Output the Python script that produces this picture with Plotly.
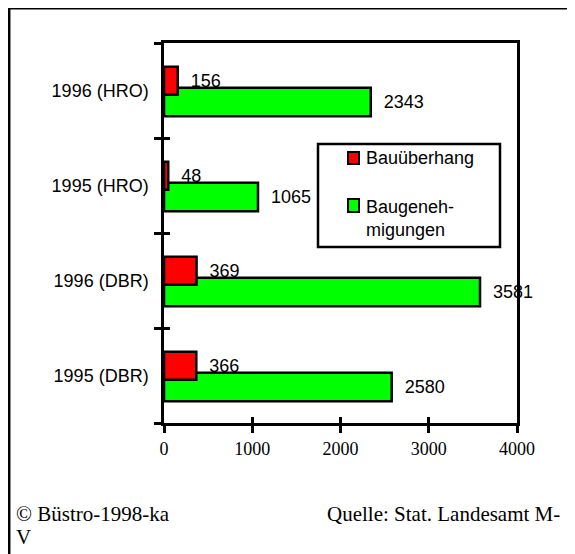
import plotly.graph_objects as go

# data (bottom category first)
categories = ['1995 (DBR)', '1996 (DBR)', '1995 (HRO)', '1996 (HRO)']
bauueberhang = [366, 369, 48, 156]
baugenehmigungen = [2580, 3581, 1065, 2343]
series_names = ['Bauüberhang', 'Baugeneh-<br>migungen']
series_colors = ['#FF0000', '#00FF00']
x_ticks = [0, 1000, 2000, 3000, 4000]

# the page body has an 8px margin, so the figure starts at (8, 8)
OFF = 8
W, H = 575 - OFF, 554 - OFF
L, R, T, B = 164, 517, 43, 423   # plot area in page pixels


def px_x(p):
    return (p - L) / (R - L)


def px_y(p):
    return (B - p) / (B - T)


sans = 'Arial, Liberation Sans, sans-serif'
serif = 'Times New Roman, Liberation Serif, serif'
nb = '\u00a0\u00a0'

fig = go.Figure()

fig.add_trace(go.Bar(
    y=categories, x=baugenehmigungen, orientation='h',
    name=series_names[1],
    marker=dict(color=series_colors[1], line=dict(color='black', width=2.5)),
    offset=-0.27, width=0.3,
    text=baugenehmigungen, texttemplate=nb + '%{x}', textposition='outside',
    constraintext='none', cliponaxis=False,
    textfont=dict(family=sans, size=18, color='black'),
    showlegend=False, hoverinfo='x+name'
))
fig.add_trace(go.Bar(
    y=categories, x=bauueberhang, orientation='h',
    name=series_names[0],
    marker=dict(color=series_colors[0], line=dict(color='black', width=2.5)),
    offset=-0.045, width=0.295,
    text=bauueberhang, texttemplate=nb + '%{x}', textposition='outside',
    constraintext='none', cliponaxis=False,
    textfont=dict(family=sans, size=18, color='black'),
    showlegend=False, hoverinfo='x+name'
))
# helper trace so the inside-tick overlay axes get drawn
fig.add_trace(go.Scatter(x=[None], y=[None], xaxis='x2', yaxis='y2',
                         showlegend=False, hoverinfo='skip'))

shapes = [
    # outer frame (only top and left visible)
    dict(type='rect', xref='paper', yref='paper',
         x0=px_x(9.2), x1=px_x(620), y0=px_y(8.2), y1=px_y(620),
         line=dict(color='black', width=2.5), layer='below'),
    # legend box
    dict(type='rect', xref='paper', yref='paper',
         x0=px_x(318), x1=px_x(500), y0=px_y(144), y1=px_y(247),
         line=dict(color='black', width=2.5), fillcolor='white'),
    dict(type='rect', xref='paper', yref='paper',
         x0=px_x(348), x1=px_x(359), y0=px_y(152), y1=px_y(164),
         line=dict(color='black', width=2), fillcolor=series_colors[0]),
    dict(type='rect', xref='paper', yref='paper',
         x0=px_x(348), x1=px_x(359), y0=px_y(199), y1=px_y(212),
         line=dict(color='black', width=2), fillcolor=series_colors[1]),
]

annotations = [
    dict(text=series_names[0], xref='paper', yref='paper',
         x=px_x(364), y=px_y(158), xanchor='left', yanchor='middle',
         showarrow=False, font=dict(family=sans, size=18, color='black')),
    dict(text=series_names[1], xref='paper', yref='paper', align='left',
         x=px_x(364), y=px_y(218), xanchor='left', yanchor='middle',
         showarrow=False, font=dict(family=sans, size=18, color='black')),
    dict(text='© Büstro-1998-ka', xref='paper', yref='paper',
         x=px_x(14), y=px_y(514), xanchor='left', yanchor='middle',
         showarrow=False, font=dict(family=serif, size=21, color='black')),
    dict(text='Quelle: Stat. Landesamt M-', xref='paper', yref='paper',
         x=px_x(325), y=px_y(514), xanchor='left', yanchor='middle',
         showarrow=False, font=dict(family=serif, size=21, color='black')),
    dict(text='V', xref='paper', yref='paper',
         x=px_x(14), y=px_y(537), xanchor='left', yanchor='middle',
         showarrow=False, font=dict(family=serif, size=21, color='black')),
]

fig.update_layout(
    width=W, height=H,
    margin=dict(l=L - OFF, r=W - (R - OFF), t=T - OFF, b=H - (B - OFF), pad=0),
    paper_bgcolor='white', plot_bgcolor='white',
    barmode='overlay', showlegend=False,
    xaxis=dict(range=[0, 4000], tickvals=x_ticks, ticks='outside',
               ticklen=7, tickwidth=2.5, tickcolor='black',
               showline=True, linecolor='black', linewidth=2.5, mirror=True,
               showgrid=False, zeroline=False, ticklabelstandoff=1,
               tickfont=dict(family=serif, size=18, color='black')),
    yaxis=dict(type='category', categoryorder='array', categoryarray=categories,
               range=[-0.5, 3.5], ticks='outside', tickson='boundaries',
               ticklen=7, tickwidth=2.5, tickcolor='black',
               showline=True, linecolor='black', linewidth=2.5, mirror=True,
               showgrid=False, zeroline=False, ticklabelstandoff=9,
               tickfont=dict(family=sans, size=18, color='black')),
    xaxis2=dict(overlaying='x', anchor='y', side='bottom', range=[0, 4000],
                tickvals=x_ticks, ticks='inside', ticklen=6, tickwidth=2.5,
                tickcolor='black', showticklabels=False, showgrid=False,
                zeroline=False, showline=False),
    yaxis2=dict(overlaying='y', anchor='x', side='left', range=[-0.5, 3.5],
                tickvals=[-0.5, 0.5, 1.5, 2.5, 3.5], ticks='inside', ticklen=6,
                tickwidth=2.5, tickcolor='black', showticklabels=False,
                showgrid=False, zeroline=False, showline=False),
    shapes=shapes, annotations=annotations,
)

fig.write_html('out.html')
